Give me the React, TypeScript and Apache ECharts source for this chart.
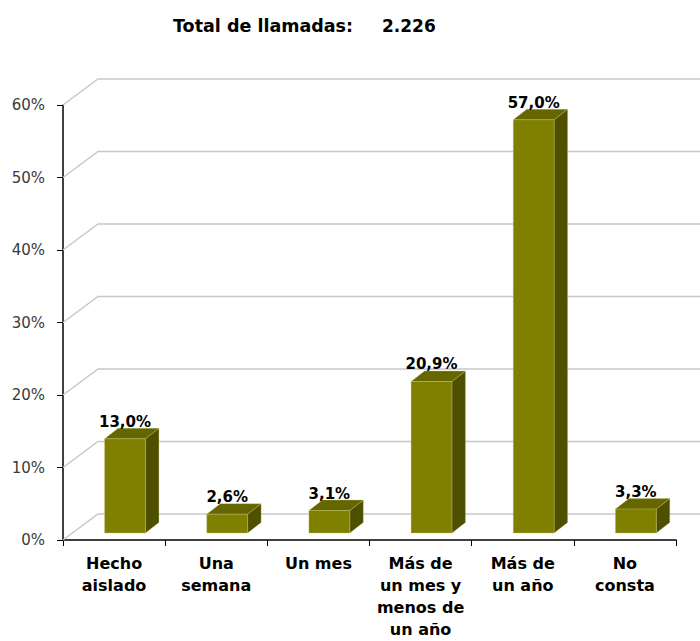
import React, { useEffect, useRef } from "react";
import * as echarts from "echarts";

const categories = [
  "Hecho\naislado",
  "Una\nsemana",
  "Un mes",
  "Más de\nun mes y\nmenos de\nun año",
  "Más de\nun año",
  "No\nconsta",
];
const values = [13.0, 2.6, 3.1, 20.9, 57.0, 3.3];
const valueLabels = ["13,0%", "2,6%", "3,1%", "20,9%", "57,0%", "3,3%"];
const yTicks = [0, 10, 20, 30, 40, 50, 60];
const titleLabel = "Total de llamadas:";
const titleValue = "2.226";

const FONT = '"DejaVu Sans", sans-serif';

export default function App() {
  const ref = useRef<HTMLDivElement>(null);
  useEffect(() => {
    if (!ref.current) return;
    const chart = echarts.init(ref.current, null, { renderer: "svg" });
    const WALL_DX = 35;
    const WALL_DY = -26;
    const option: any = {
      animation: false,
      backgroundColor: "#ffffff",
      grid: {
        left: 63,
        right: 24,
        top: 105,
        bottom: 101,
        containLabel: false,
        outerBoundsMode: "none",
      },
      graphic: [
        {
          type: "text",
          left: 173,
          top: 17,
          style: { text: titleLabel, font: `bold 17.5px ${FONT}`, fill: "#000" },
        },
        {
          type: "text",
          left: 382,
          top: 17,
          style: { text: titleValue, font: `bold 17px ${FONT}`, fill: "#000" },
        },
      ],
      xAxis: {
        type: "category",
        data: categories,
        axisLine: { show: true, lineStyle: { color: "#000", width: 1.5 } },
        axisTick: { show: true, length: 6, alignWithLabel: false, lineStyle: { color: "#000", width: 1 } },
        axisLabel: {
          interval: 0,
          margin: 12,
          color: "#000",
          fontFamily: "DejaVu Sans",
          fontWeight: "bold",
          fontSize: 16,
          lineHeight: 22,
        },
        splitLine: { show: false },
      },
      yAxis: {
        type: "value",
        min: 0,
        max: 60,
        interval: 10,
        axisLine: { show: true, lineStyle: { color: "#000", width: 1.5 } },
        axisTick: { show: true, length: 6, lineStyle: { color: "#000", width: 1 } },
        axisLabel: {
          formatter: "{value}%",
          margin: 18,
          color: "#3a3a3a",
          fontFamily: "DejaVu Sans",
          fontSize: 15,
        },
        splitLine: { show: false },
      },
      series: [
        {
          type: "custom",
          clip: false,
          silent: true,
          z: 1,
          data: yTicks.map((v) => [0, v]),
          renderItem: (params: any, api: any) => {
            const cs = params.coordSys;
            const v = api.value(1);
            const y = api.coord([0, v])[1];
            const x0 = cs.x;
            const x1 = cs.x + cs.width + WALL_DX;
            return {
              type: "polyline",
              shape: {
                points: [
                  [x0, y],
                  [x0 + WALL_DX, y + WALL_DY],
                  [x1, y + WALL_DY],
                ],
              },
              style: { stroke: "#c8c8c8", lineWidth: 1.5, fill: "none" },
            };
          },
        },
        {
          type: "custom",
          clip: false,
          z: 3,
          data: values.map((v, i) => [i, v]),
          renderItem: (params: any, api: any) => {
            const idx = api.value(0);
            const val = api.value(1);
            const base = api.coord([idx, 0]);
            const top = api.coord([idx, val]);
            const bw = api.size([1, 0])[0];
            const w = bw * 0.4;
            const fx0 = base[0] - bw * 0.093;
            const offY = -7;
            const dx = 13.5;
            const dy = -10.5;
            const by = base[1] + offY;
            const ty = top[1] + offY;
            const edge = { stroke: "rgba(200,200,120,0.55)", lineWidth: 0.6 };
            return {
              type: "group",
              children: [
                {
                  type: "polygon",
                  shape: {
                    points: [
                      [fx0 + w, ty],
                      [fx0 + w, by],
                      [fx0 + w + dx, by + dy],
                      [fx0 + w + dx, ty + dy],
                    ],
                  },
                  style: { fill: "#4f4f00", ...edge },
                },
                {
                  type: "polygon",
                  shape: {
                    points: [
                      [fx0, ty],
                      [fx0 + w, ty],
                      [fx0 + w + dx, ty + dy],
                      [fx0 + dx, ty + dy],
                    ],
                  },
                  style: { fill: "#666600", ...edge },
                },
                {
                  type: "rect",
                  shape: { x: fx0, y: ty, width: w, height: by - ty },
                  style: { fill: "#808000", ...edge },
                },
                {
                  type: "text",
                  style: {
                    text: valueLabels[idx],
                    x: fx0 + w / 2,
                    y: ty + dy + 1,
                    align: "center",
                    verticalAlign: "bottom",
                    font: `bold 15px ${FONT}`,
                    fill: "#000",
                  },
                },
              ],
            };
          },
        },
      ],
    };
    chart.setOption(option);
    return () => chart.dispose();
  }, []);
  return (
    <div
      ref={ref}
      style={{ position: "absolute", left: 0, top: 0, width: 700, height: 641 }}
    />
  );
}
